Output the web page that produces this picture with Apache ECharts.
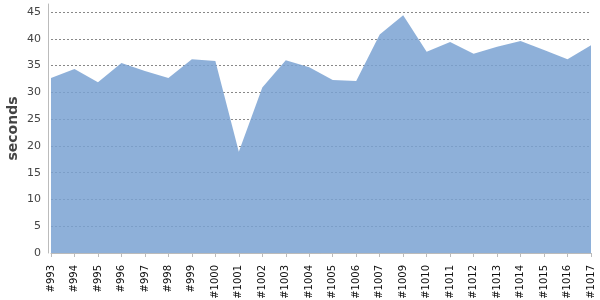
<!DOCTYPE html>
<html>
<head>
<meta charset="utf-8">
<script src="https://cdn.jsdelivr.net/npm/echarts@6/dist/echarts.min.js"></script>
<style>html,body{margin:0;padding:0;background:#fff}#c{width:600px;height:300px}</style>
</head>
<body>
<div id="c"></div>
<script>
const categories = ['#993','#994','#995','#996','#997','#998','#999','#1000','#1001','#1002','#1003','#1004','#1005','#1006','#1007','#1009','#1010','#1011','#1012','#1013','#1014','#1015','#1016','#1017'];
const seconds = [32.7,34.35,31.9,35.5,34.0,32.7,36.2,35.85,18.9,30.9,36.0,34.7,32.3,32.1,40.8,44.4,37.6,39.4,37.2,38.5,39.6,37.9,36.2,38.8];
const yTicks = {min: 0, max: 46.5, interval: 5};

const chart = echarts.init(document.getElementById('c'), null, {renderer: 'canvas'});
chart.setOption({
  animation: false,
  backgroundColor: '#fff',
  textStyle: {fontFamily: 'DejaVu Sans'},
  grid: {left: 51, right: 9, top: 4, bottom: 47, containLabel: false, outerBoundsMode: 'none'},
  xAxis: {
    type: 'category',
    data: categories,
    boundaryGap: false,
    offset: 4,
    axisLine: {lineStyle: {color: '#bbb', width: 1}},
    axisTick: {length: 4, lineStyle: {color: '#bbb'}},
    axisLabel: {rotate: 90, interval: 0, fontSize: 10, color: '#111', margin: 8, fontFamily: 'DejaVu Sans'},
    splitLine: {show: false}
  },
  yAxis: {
    type: 'value',
    min: yTicks.min, max: yTicks.max, interval: yTicks.interval,
    offset: 3,
    name: 'seconds',
    nameLocation: 'middle',
    nameRotate: 90,
    nameGap: 28,
    nameMoveOverlap: false,
    nameTextStyle: {fontSize: 14, fontWeight: 'bold', color: '#444', fontFamily: 'DejaVu Sans'},
    axisLine: {show: true, lineStyle: {color: '#bbb', width: 1}},
    axisTick: {show: false},
    axisLabel: {fontSize: 11, color: '#444', margin: 7, showMaxLabel: false, fontFamily: 'DejaVu Sans'},
    splitLine: {show: true, showMaxLine: false, lineStyle: {color: '#888', type: [2, 2], width: 1}}
  },
  series: [{
    type: 'line',
    data: seconds,
    symbol: 'none',
    z: 2,
    lineStyle: {width: 0, color: '#8EB0D9'},
    itemStyle: {color: '#8EB0D9'},
    areaStyle: {color: 'rgba(122,162,210,0.85)', opacity: 1}
  }]
});
</script>
</body>
</html>
